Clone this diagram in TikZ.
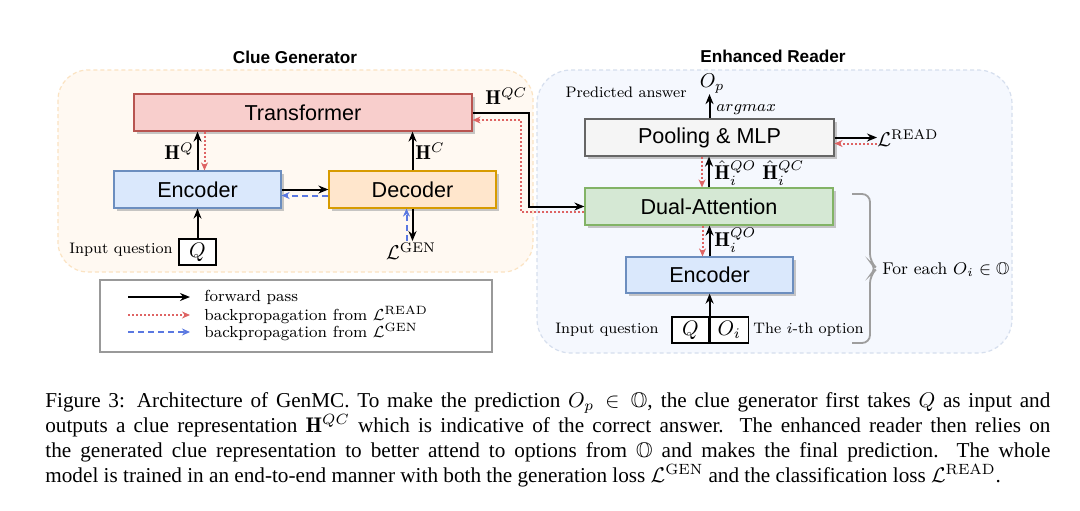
\RequirePackage{fix-cm}
\documentclass[tikz,border=0pt]{standalone}
\usepackage{amsmath,amssymb}
\usepackage{fontspec}
\newfontfamily\sansf{Liberation Sans}
\newfontfamily\capf{Liberation Serif}
\usetikzlibrary{arrows.meta,calc,shadows}
\definecolor{trF}{HTML}{F8CECC}\definecolor{trD}{HTML}{B85450}
\definecolor{enF}{HTML}{DAE8FC}\definecolor{enD}{HTML}{6C8EBF}
\definecolor{deF}{HTML}{FFE6CC}\definecolor{deD}{HTML}{D79B00}
\definecolor{daF}{HTML}{D5E8D4}\definecolor{daD}{HTML}{82B366}
\definecolor{poF}{HTML}{F5F5F5}\definecolor{poD}{HTML}{666666}
\definecolor{orF}{HTML}{FFF9F2}\definecolor{orD}{HTML}{FBE3C2}
\definecolor{blF}{HTML}{F5F8FE}\definecolor{blD}{HTML}{D6DFEE}
\definecolor{redbp}{RGB}{222,100,100}
\definecolor{bluebp}{RGB}{90,120,225}
\tikzset{
  mbox/.style={draw, line width=0.6pt, inner sep=0pt, font=\fontsize{10.8}{13}\sansf,
    drop shadow={shadow xshift=1.6pt, shadow yshift=-1.6pt, fill=black!28, opacity=0.8}},
  fw/.style={line width=1pt, -{Stealth[length=5pt,width=4pt]}},
  bpr/.style={redbp, line width=1pt, dash pattern=on 1pt off 1pt, -{Stealth[length=4pt,width=3.5pt]}},
  bpb/.style={bluebp, line width=1pt, dash pattern=on 3pt off 2pt, -{Stealth[length=4pt,width=3.5pt]}},
  tlab/.style={font=\fontsize{7.6}{9}\selectfont, inner sep=0pt},
  leglab/.style={font=\fontsize{8}{9.6}\selectfont, inner sep=0pt},
  mlab/.style={font=\fontsize{10}{12}\selectfont, inner sep=0pt},
  title/.style={font=\fontsize{8.6}{10}\sansf\bfseries, inner sep=0pt},
  region/.style={dashed, line width=0.6pt, dash pattern=on 2pt off 1.5pt},
  inbox/.style={draw, line width=0.6pt, inner sep=0pt, font=\fontsize{10.5}{12}\selectfont},
}
\begin{document}
\begin{tikzpicture}[x=0.5pt,y=-0.5pt]
\useasboundingbox (0,0) rectangle (1080,510);
\fill[white] (0,0) rectangle (1080,510);
% regions
\draw[region, fill=orF, draw=orD, rounded corners=15pt] (58,70) rectangle (533,272);
\draw[region, fill=blF, draw=blD, rounded corners=17pt] (537,70) rectangle (1012,353);
\node[title] (tcg) at (295,57) {Clue Generator};
\node[title] (ter) at (773,56) {Enhanced Reader};
% clue generator boxes
\node[mbox, fill=trF, draw=trD, minimum width=169pt, minimum height=18.5pt] (trans) at (303,112.5) {Transformer};
\node[mbox, fill=enF, draw=enD, minimum width=83.5pt, minimum height=18.5pt] (encL) at (197.5,189.5) {Encoder};
\node[mbox, fill=deF, draw=deD, minimum width=83.5pt, minimum height=18.5pt] (dec) at (412.5,189.5) {Decoder};
\node[inbox, fill=white, minimum width=18.5pt, minimum height=13pt] (qL) at (197.5,252) {$Q$};
\node[tlab, anchor=east] (iqL) at (173,250) {Input question};
% reader boxes
\node[mbox, fill=poF, draw=poD, minimum width=124.5pt, minimum height=18.5pt] (pool) at (709.5,137.5) {Pooling \& MLP};
\node[mbox, fill=daF, draw=daD, minimum width=124pt, minimum height=18.5pt] (dual) at (709,206.5) {Dual-Attention};
\node[mbox, fill=enF, draw=enD, minimum width=83.5pt, minimum height=18pt] (encR) at (709.5,275) {Encoder};
\node[inbox, fill=white, minimum width=18.5pt, minimum height=13pt] (qR) at (690.5,330) {$Q$};
\node[inbox, fill=white, minimum width=19pt, minimum height=13pt, anchor=west] (oR) at (qR.east) {$O_i$};
\node[tlab, anchor=east] (iqR) at (659,330) {Input question};
\node[tlab, anchor=west] (ith) at (753,330) {The $i$-th option};
% clue generator connectors
\draw[fw] (encL.north) -- (encL.north |- trans.south);
\draw[bpr] ($(encL.north |- trans.south)+(7,0)$) -- ($(encL.north)+(7,0)$);
\node[mlab, anchor=east] (hq) at (194,151) {$\mathbf{H}^{Q}$};
\draw[fw] (dec.north) -- (dec.north |- trans.south);
\node[mlab, anchor=west] (hc) at (415,151) {$\mathbf{H}^{C}$};
\draw[fw] (encL.east) -- (dec.west);
\draw[bpb] ($(dec.west)+(0,6)$) -- ($(encL.east)+(0,6)$);
\draw[fw] (qL.north) -- (encL.south);
\node[mlab, inner sep=0.5pt] (lgen) at (411,251) {$\mathcal{L}^{\mathrm{GEN}}$};
\draw[fw] (dec.south) -- (dec.south |- lgen.north);
\draw[bpb] ($(dec.south |- lgen.north)+(-6,0)$) -- ($(dec.south)+(-6,0)$);
% transformer -> dual attention
\draw[fw] (trans.east) -- ++(56,0) |- (dual.west);
\draw[bpr] ($(dual.west)+(0,5.5)$) -- ++(-63,0) |- ($(trans.east)+(0,7.5)$);
\node[mlab, anchor=west] (hqc) at (485,96) {$\mathbf{H}^{QC}$};
% reader connectors
\draw[fw] (qR.north east) -- (qR.north east |- encR.south);
\draw[fw] (encR.north) -- (encR.north |- dual.south);
\draw[bpr] ($(encR.north |- dual.south)+(-7,0)$) -- ($(encR.north)+(-7,0)$);
\node[mlab, anchor=west] (hqo) at (714,240) {$\mathbf{H}_i^{QO}$};
\draw[fw] (dual.north) -- (dual.north |- pool.south);
\draw[bpr] ($(dual.north |- pool.south)+(-7,0)$) -- ($(dual.north)+(-7,0)$);
\node[mlab, anchor=west] (hhqo) at (714,173) {$\hat{\mathbf{H}}_i^{QO}$};
\node[mlab, anchor=west] (hhqc) at (762,173) {$\hat{\mathbf{H}}_i^{QC}$};
\node[mlab] (op) at (712,84) {$O_p$};
\draw[fw] (pool.north) -- (pool.north |- op.south);
\node[tlab, font=\fontsize{8}{9.6}\selectfont, anchor=west] (amax) at (716,110) {$argmax$};
\node[tlab, anchor=east] (pa) at (687,92) {Predicted answer};
\node[mlab, anchor=west] (lread) at (877,138) {$\mathcal{L}^{\mathrm{READ}}$};
\draw[fw] (pool.east) -- (pool.east -| lread.west);
\draw[bpr] ($(pool.east -| lread.west)+(0,6)$) -- ($(pool.east)+(0,6)$);
% brace
\draw[black!38, line width=0.9pt, rounded corners=4pt] (852,194) -- (870,194) -- (870,262) -- (877,268.5) -- (870,275) -- (870,343) -- (852,343);
\node[tlab, font=\fontsize{8.5}{10}\selectfont, anchor=west] (fe) at (882,270) {For each $O_i\in\mathbb{O}$};
% legend
\node[draw=black!40, line width=0.7pt, fill=white, minimum width=196pt, minimum height=36pt, inner sep=0pt] (leg) at (296,316) {};
\coordinate (la1) at (128,297); \coordinate (lb1) at (190,297);
\coordinate (la2) at (128,315); \coordinate (lb2) at (190,315);
\coordinate (la3) at (128,332); \coordinate (lb3) at (190,332);
\draw[fw] (la1) -- (lb1);
\draw[bpr] (la2) -- (lb2);
\draw[bpb] (la3) -- (lb3);
\node[leglab, anchor=west] (lt1) at (204,297) {forward pass};
\node[leglab, anchor=west] (lt2) at (204,315) {backpropagation from $\mathcal{L}^{\mathrm{READ}}$};
\node[leglab, anchor=west] (lt3) at (204,332) {backpropagation from $\mathcal{L}^{\mathrm{GEN}}$};
% caption
\node[anchor=north west, inner sep=0pt, text width=502.5pt, align=justify,
  font=\fontsize{10.6}{12.5}\capf] (cap) at (45,392) {Figure 3: Architecture of GenMC. To make the prediction $O_p\in\mathbb{O}$, the clue generator first takes $Q$ as input and\linebreak outputs a clue representation $\mathbf{H}^{QC}$ which is indicative of the correct answer. The enhanced reader then relies on\linebreak the generated clue representation to better attend to options from $\mathbb{O}$ and makes the final prediction.\ \ The whole\linebreak model is trained in an end-to-end manner with both the generation loss $\mathcal{L}^{\mathrm{GEN}}$ and the classification loss $\mathcal{L}^{\mathrm{READ}}$.};
\end{tikzpicture}
\end{document}
